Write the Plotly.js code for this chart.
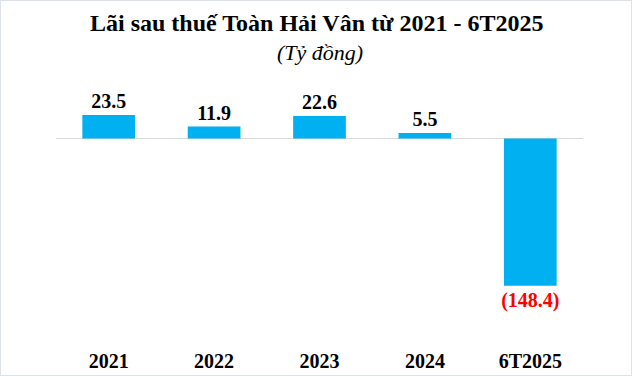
<!DOCTYPE html>
<html>
<head>
<meta charset="utf-8">
<script src="https://cdn.plot.ly/plotly-3.0.1.min.js"></script>
<style>
  html, body { margin: 0; padding: 0; background: #ffffff; }
  #chart { width: 633px; height: 376px; }
  #frame { position: absolute; left: 0; top: 0; width: 630px; height: 374px; border: 1px solid #dde1e8; pointer-events: none; }
</style>
</head>
<body>
<div id="chart"></div>
<div id="frame"></div>
<script>
const categories = ['2021', '2022', '2023', '2024', '6T2025'];
const profit = [23.5, 11.9, 22.6, 5.5, -148.4];
const titleText = 'Lãi sau thuế Toàn Hải Vân từ 2021 - 6T2025';
const unitText = '(Tỷ đồng)';

const labels = profit.map(v => v < 0 ? '(' + Math.abs(v).toFixed(1) + ')' : v.toFixed(1));
const labelColors = profit.map(v => v < 0 ? '#ff0000' : '#000000');
const serif = 'Liberation Serif, Times New Roman, serif';

const trace = {
  type: 'bar',
  x: categories,
  y: profit,
  marker: { color: '#00b0f0' },
  text: labels,
  textposition: 'outside',
  constraintext: 'none',
  cliponaxis: false,
  textfont: { family: serif, size: 20, weight: 'bold', color: labelColors },
  hoverinfo: 'skip'
};

const layout = {
  width: 633,
  height: 376,
  paper_bgcolor: '#ffffff',
  plot_bgcolor: '#ffffff',
  margin: { l: 56, r: 50, t: 85, b: 29 },
  bargap: 0.5,
  showlegend: false,
  xaxis: {
    type: 'category',
    showline: false,
    showgrid: false,
    zeroline: false,
    ticks: '',
    tickfont: { family: serif, size: 20, weight: 'bold', color: '#000000' }
  },
  yaxis: {
    range: [-210.2, 53.8],
    showgrid: false,
    showticklabels: false,
    ticks: '',
    showline: false,
    zeroline: true,
    zerolinecolor: '#d9d9d9',
    zerolinewidth: 1
  },
  annotations: [
    {
      text: '<b>' + titleText + '</b>',
      xref: 'paper', yref: 'paper',
      x: (316 - 56) / 527, y: 1 + (85 - 23) / 262,
      xanchor: 'center', yanchor: 'middle',
      showarrow: false,
      font: { family: serif, size: 24, color: '#000000' }
    },
    {
      text: '<i>' + unitText + '</i>',
      xref: 'paper', yref: 'paper',
      x: (320 - 56) / 527, y: 1 + (85 - 52) / 262,
      xanchor: 'center', yanchor: 'middle',
      showarrow: false,
      font: { family: serif, size: 22, color: '#000000' }
    }
  ]
};

Plotly.newPlot('chart', [trace], layout, { displayModeBar: false, staticPlot: true });
</script>
</body>
</html>
